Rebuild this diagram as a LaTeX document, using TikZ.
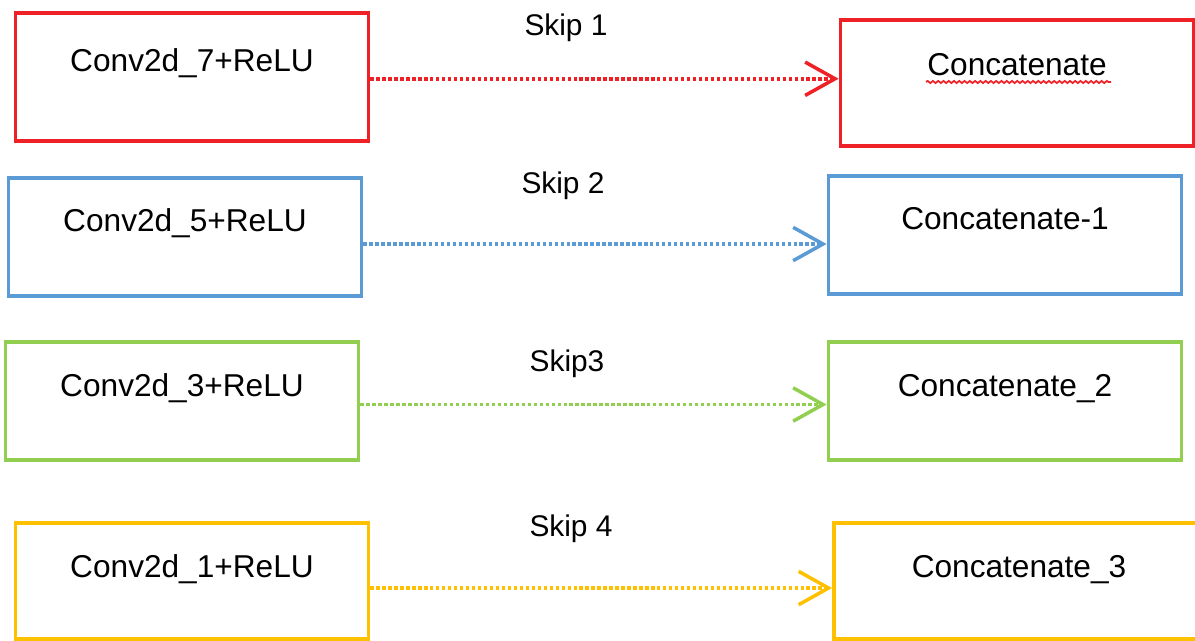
\documentclass[tikz,border=0pt]{standalone}
\usepackage{fontspec}
\setmainfont{Liberation Sans}
\usepackage{tikz}
\usetikzlibrary{arrows.meta,positioning,decorations.pathmorphing}
\definecolor{skipred}{HTML}{EE2127}
\definecolor{skipblue}{HTML}{5B9BD5}
\definecolor{skipgreen}{HTML}{92CF50}
\definecolor{skipyellow}{HTML}{FFC000}

\begin{document}
\begin{tikzpicture}[x=0.02cm, y=-0.02cm, >={Straight Barb[length=17pt,width=19pt]},
  blk/.style={draw, line width=2.2pt, inner sep=0pt, anchor=base, minimum width=7.06cm,
    text height=1.08cm, text depth=1.28cm, font=\fontsize{18}{21}\selectfont},
  lbl/.style={anchor=base, font=\fontsize{17}{20}\selectfont},
  skiparrow/.style={->, line width=2pt, dash pattern=on 1.9pt off 1.5pt}]
\useasboundingbox (0,0) rectangle (1195,641);

% encoder side
\node[blk, skipred, text=black, text height=1.18cm, text depth=1.38cm] (conv7) at (192,72) {Conv2d\_7+ReLU};
\node[blk, skipblue, text=black] (conv5) at (185,232) {Conv2d\_5+ReLU};
\node[blk, skipgreen, text=black] (conv3) at (182,396) {Conv2d\_3+ReLU};
\node[blk, skipyellow, text=black, text depth=1.24cm] (conv1) at (192,577) {Conv2d\_1+ReLU};

% decoder side
\node[blk, skipred, text=black, text height=1.12cm, text depth=1.40cm] (cat0) at (1017,76) {Concatenate};
\node[blk, skipblue, text=black] (cat1) at (1005,230) {Concatenate-1};
\node[blk, skipgreen, text=black] (cat2) at (1005,396) {Concatenate\_2};
\node[blk, skipyellow, text=black, minimum width=7.4cm, text depth=1.24cm] (cat3) at (1019,577) {Concatenate\_3};
\draw[skipred, line width=1pt, decorate, decoration={snake, amplitude=0.6pt, segment length=3pt}]
  (926,82) -- (1111,82);

% skip labels
\node[lbl] (skip1) at (566,36) {Skip 1};
\node[lbl] (skip2) at (563,194) {Skip 2};
\node[lbl] (skip3) at (567,371) {Skip3};
\node[lbl] (skip4) at (571,536) {Skip 4};

% skip connections
\coordinate (s1) at ([yshift=-1pt]conv7.east);
\coordinate (s2) at ([yshift=-4pt]conv5.east);
\coordinate (s3) at ([yshift=-2pt]conv3.east);
\coordinate (s4) at ([yshift=-4pt]conv1.east);
\draw[skiparrow, skipred] (s1) -- (s1 -| cat0.west);
\draw[skiparrow, skipblue] (s2) -- (s2 -| cat1.west);
\draw[skiparrow, skipgreen] (s3) -- (s3 -| cat2.west);
\draw[skiparrow, skipyellow] (s4) -- (s4 -| cat3.west);
\end{tikzpicture}
\end{document}
